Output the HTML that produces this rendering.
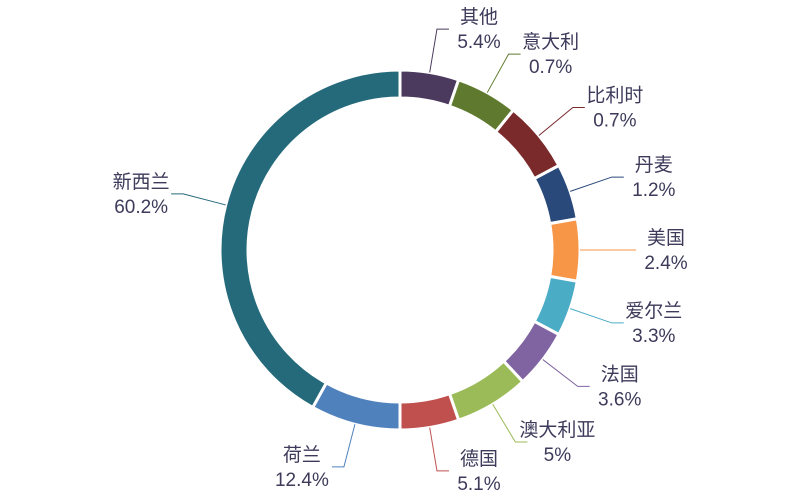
<!DOCTYPE html>
<html><head><meta charset="utf-8">
<style>
html,body{margin:0;padding:0;background:#fff;}
svg{display:block;font-family:"Liberation Sans","Noto Sans CJK SC",sans-serif;}
</style></head>
<body>
<svg id="chart" width="800" height="500" viewBox="0 0 800 500" xmlns="http://www.w3.org/2000/svg">
<g id="slices"></g>
<g id="labels"></g>
</svg>
<script>
// categories, clockwise from top
const categories = ["其他","意大利","比利时","丹麦","美国","爱尔兰","法国","澳大利亚","德国","荷兰","新西兰"];
// printed percentage labels
const pctLabels = ["5.4%","0.7%","0.7%","1.2%","2.4%","3.3%","3.6%","5%","5.1%","12.4%","60.2%"];
// displayed slice sizes (visual shares)
const values = [19,20,23,18,20,18,19,24,19,29,151];
const colors = ["#4b3a5e","#5f7a2e","#7b2a2c","#28497a","#f79646","#4bacc6","#8064a2","#9bbb59","#c0504d","#4f81bd","#256a7b"];

const NS = "http://www.w3.org/2000/svg";
const cx = 400, cy = 250, R = 180, r = 152;
const total = values.reduce((a,b)=>a+b,0);
function angleOf(v){ return v / total * Math.PI * 2; }
function pt(a, rad){ return [cx + rad*Math.sin(a), cy - rad*Math.cos(a)]; }

const gS = document.getElementById("slices");
const gL = document.getElementById("labels");
let start = 0;
values.forEach((v,i)=>{
  const end = start + angleOf(v);
  const large = (end-start) > Math.PI ? 1 : 0;
  const [x1,y1] = pt(start,R), [x2,y2] = pt(end,R), [x3,y3] = pt(end,r), [x4,y4] = pt(start,r);
  const p = document.createElementNS(NS,"path");
  p.setAttribute("d",`M${x1},${y1} A${R},${R} 0 ${large} 1 ${x2},${y2} L${x3},${y3} A${r},${r} 0 ${large} 0 ${x4},${y4} Z`);
  p.setAttribute("fill",colors[i]);
  p.setAttribute("stroke","#fff");
  p.setAttribute("stroke-width","3");
  
  
  gS.appendChild(p);

  const mid = (start+end)/2;
  const [ax,ay] = pt(mid,R);
  const [ex,ey] = pt(mid,224);
  const right = Math.sin(mid) >= 0;
  const hx = ex + (right ? 12 : -12);
  const line = document.createElementNS(NS,"polyline");
  line.setAttribute("points",`${ax},${ay} ${ex},${ey} ${hx},${ey}`);
  line.setAttribute("fill","none");
  line.setAttribute("stroke",colors[i]);
  line.setAttribute("stroke-width","1");
  
  
  gL.appendChild(line);

  const tx = hx + (right ? 30 : -30);
  const t = document.createElementNS(NS,"text");
  t.setAttribute("x",tx);
  t.setAttribute("text-anchor","middle");
  t.setAttribute("font-size","19");
  t.setAttribute("fill","#3d3a5a");
  
  
  const s1 = document.createElementNS(NS,"tspan");
  s1.setAttribute("x",tx); s1.setAttribute("y",ey-6);
  s1.textContent = categories[i];
  const s2 = document.createElementNS(NS,"tspan");
  s2.setAttribute("x",tx); s2.setAttribute("y",ey+19);
  s2.textContent = pctLabels[i];
  t.appendChild(s1); t.appendChild(s2);
  gL.appendChild(t);
  start = end;
});
</script>
</body></html>
